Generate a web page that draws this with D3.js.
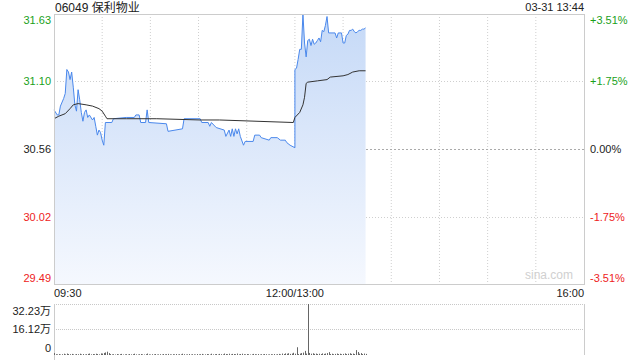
<!DOCTYPE html>
<html>
<head>
<meta charset="utf-8">
<script src="https://cdn.jsdelivr.net/npm/d3@7/dist/d3.min.js"></script>
<style>
body { margin: 0; background: #fff; }
svg { display: block; font-family: "Liberation Sans", Arial, "Noto Sans CJK SC", sans-serif; }
</style>
</head>
<body>
<div class="chart"></div>
<script>
// minute data
const priceTimes = ["09:30","09:32","09:33","09:34","09:36","09:37","09:38","09:39","09:40","09:41",
  "09:42","09:43","09:44","09:45","09:46","09:47","09:48","09:49","09:50","09:51",
  "09:52","09:54","09:55","09:56","09:57","09:58","09:59","10:00","10:01","10:02",
  "10:06","10:07","10:15","10:20","10:21","10:23","10:24","10:27","10:28","10:29",
  "10:40","10:41","10:50","10:51","11:01","11:02","11:06","11:07","11:08","11:11",
  "11:16","11:17","11:19","11:20","11:21","11:22","11:23","11:24","11:25","11:26",
  "11:28","11:29","11:34","11:35","11:38","11:39","11:44","11:45","11:49","11:51",
  "11:54","11:55","11:57","12:00","13:00","13:01","13:02","13:03","13:04","13:05",
  "13:06","13:07","13:08","13:09","13:10","13:11","13:12","13:13","13:14","13:15",
  "13:16","13:17","13:18","13:19","13:20","13:21","13:25","13:26","13:27","13:29",
  "13:30","13:31","13:32","13:33","13:34","13:35","13:36","13:37","13:38","13:39",
  "13:40","13:41","13:42","13:43","13:44"];
const prices = [30.87,30.83,30.83,30.90,30.96,31.00,31.19,31.17,31.11,31.17,
  31.05,30.91,30.86,31.03,30.95,30.85,30.78,30.85,30.87,30.81,
  30.83,30.79,30.81,30.74,30.67,30.71,30.69,30.63,30.59,30.77,
  30.77,30.80,30.81,30.81,30.83,30.83,30.77,30.77,30.87,30.77,
  30.76,30.70,30.72,30.80,30.80,30.77,30.77,30.74,30.77,30.73,
  30.71,30.66,30.71,30.66,30.72,30.66,30.72,30.68,30.72,30.66,
  30.59,30.62,30.62,30.67,30.67,30.65,30.63,30.65,30.65,30.63,
  30.63,30.61,30.59,30.57,31.19,31.20,31.27,31.35,31.35,31.63,
  31.40,31.29,31.42,31.43,31.38,31.43,31.39,31.40,31.42,31.44,
  31.41,31.50,31.49,31.54,31.61,31.48,31.48,31.44,31.48,31.48,
  31.40,31.40,31.46,31.47,31.50,31.50,31.51,31.49,31.48,31.49,
  31.50,31.50,31.51,31.51,31.52];

const avgTimes = ["09:30","09:33","09:37","09:40","09:42","09:45","09:50","09:54","09:58","10:00",
  "10:02","10:03","10:15","10:34","11:01","11:13","11:59","13:00","13:03","13:05",
  "13:06","13:07","13:08","13:14","13:20","13:22","13:30","13:33","13:36","13:40","13:44"];
const avgPrices = [30.80,30.82,30.84,30.88,30.91,30.92,30.91,30.90,30.88,30.86,
  30.82,30.80,30.80,30.80,30.79,30.79,30.77,30.81,30.85,30.91,
  30.97,31.08,31.09,31.10,31.11,31.13,31.14,31.15,31.17,31.18,31.18];

// volume per minute from 09:30, in 万
const volumes = [
  1.2,0.5,0.4,0.6,0.3,0.5,0.8,0.4,0.9,0.6,0.5,0.7,0.4,0.3,0.6,
  0.5,0.8,0.4,0.6,0.3,0.5,0.7,0.9,0.4,0.6,0.5,0.8,0.6,0.4,1.0,
  0.9,1.3,1.6,2.1,1.2,0.6,0.4,0.5,0.3,0.6,0.4,0.5,0.7,0.3,0.4,
  0.5,0.3,0.6,0.4,0.5,0.8,0.4,0.3,0.5,0.6,0.4,0.3,0.5,0.9,0.4,
  0.3,0.5,0.4,0.6,0.3,0.4,0.5,0.3,0.6,0.4,0.5,0.7,0.4,0.3,0.5,
  0.4,0.6,0.3,0.5,0.4,0.8,0.5,0.3,0.4,0.6,0.3,0.5,0.4,0.3,0.6,
  0.4,0.5,0.7,0.3,0.4,0.6,0.5,0.3,0.8,0.4,0.5,0.6,0.3,0.7,0.5,
  0.4,0.9,0.6,0.5,0.8,0.4,0.7,0.6,0.5,0.9,0.4,0.6,0.8,0.5,0.4,
  0.6,0.5,0.3,0.4,0.7,0.5,0.4,0.6,0.3,0.5,0.4,0.6,0.5,0.3,0.4,
  0.5,0.4,0.6,0.3,0.5,0.7,0.4,0.9,0.6,1.0,0.8,1.1,0.7,0.9,1.4,
  0.8,4.9,0.6,0.9,1.2,1.5,2.6,0.9,32.23,1.3,0.8,1.1,0.7,0.9,0.6,
  0.8,0.6,1.0,0.7,0.9,1.2,1.8,0.6,0.8,0.5,0.7,0.9,0.6,0.8,0.5,
  0.7,1.0,0.6,0.8,1.1,0.7,0.9,0.6,3.1,1.9,0.8,1.2,0.6,0.9,0.7];

const prevClose = 30.56;
const priceTicks = [31.63, 31.10, 30.56, 30.02, 29.49];
const pctTicks = ["+3.51%", "+1.75%", "0.00%", "-1.75%", "-3.51%"];
const volTicks = [32.23, 16.12, 0];
const timeLabels = ["09:30", "12:00/13:00", "16:00"];

const green = "#1a9f1a", red = "#ee2222", dark = "#222";

function toMinute(t) {
    const p = t.split(":");
    const mins = +p[0] * 60 + +p[1];
    return mins <= 720 ? mins - 570 : mins - 780 + 150;
}

const svg = d3.select(".chart")
    .append("svg")
    .attr("width", 640)
    .attr("height", 360);

const x = d3.scaleLinear().domain([0, 330]).range([54, 584]);
const y = d3.scaleLinear().domain([29.49, 31.63]).range([284, 14]);
const yv = d3.scaleLinear().domain([0, 32.23]).range([355, 304]);

const grad = svg.append("defs").append("linearGradient")
    .attr("id", "fillGrad")
    .attr("gradientUnits", "userSpaceOnUse")
    .attr("x1", 0).attr("x2", 0)
    .attr("y1", 14).attr("y2", 284);
grad.append("stop").attr("offset", "0%").attr("stop-color", "#c5d9f7");
grad.append("stop").attr("offset", "100%").attr("stop-color", "#f5f8fe");

// grid
svg.append("g")
    .selectAll("line")
    .data(d3.range(30, 330, 30))
    .enter()
    .append("line")
    .attr("x1", d => x(d)).attr("x2", d => x(d))
    .attr("y1", 14).attr("y2", 284)
    .attr("stroke", "#cfcfcf")
    .attr("stroke-dasharray", "1,2");

svg.append("g")
    .selectAll("line")
    .data(priceTicks.slice(1, 4))
    .enter()
    .append("line")
    .attr("x1", 54).attr("x2", 584)
    .attr("y1", d => Math.round(y(d)) + 0.5).attr("y2", d => Math.round(y(d)) + 0.5)
    .attr("stroke", d => d === prevClose ? "#aaa" : "#cfcfcf")
    .attr("stroke-dasharray", d => d === prevClose ? "2,2" : "1,2");

// price area + lines
const pts = priceTimes.map((t, i) => [toMinute(t), prices[i]]);
const avgPts = avgTimes.map((t, i) => [toMinute(t), avgPrices[i]]);

svg.append("path")
    .datum(pts)
    .attr("fill", "url(#fillGrad)")
    .attr("d", d3.area().x(d => x(d[0])).y0(284).y1(d => y(d[1])));

svg.append("path")
    .datum(pts)
    .attr("fill", "none")
    .attr("stroke", "#4a88ec")
    .attr("stroke-width", 1)
    .attr("d", d3.line().x(d => x(d[0])).y(d => y(d[1])));

svg.append("path")
    .datum(avgPts)
    .attr("fill", "none")
    .attr("stroke", "#333")
    .attr("stroke-width", 1)
    .attr("d", d3.line().x(d => x(d[0])).y(d => y(d[1])));

// frame
svg.append("rect")
    .attr("x", 54.5).attr("y", 14.5)
    .attr("width", 530).attr("height", 270)
    .attr("fill", "none")
    .attr("stroke", "#cccccc");

svg.append("text")
    .attr("x", 573).attr("y", 279)
    .attr("text-anchor", "end")
    .attr("font-size", 12)
    .attr("fill", "#d0d0d0")
    .text("sina.com");

// price labels
const labelColor = d => d > prevClose ? green : d < prevClose ? red : dark;
const clampY = v => Math.min(Math.max(v, 20.5), 278.5);

svg.append("g")
    .selectAll("text")
    .data(priceTicks)
    .enter()
    .append("text")
    .attr("x", 51)
    .attr("y", d => clampY(y(d)))
    .attr("dy", "0.35em")
    .attr("text-anchor", "end")
    .attr("font-size", 11)
    .attr("fill", labelColor)
    .text(d => d.toFixed(2));

svg.append("g")
    .selectAll("text")
    .data(priceTicks)
    .enter()
    .append("text")
    .attr("x", 590)
    .attr("y", d => clampY(y(d)))
    .attr("dy", "0.35em")
    .attr("font-size", 11)
    .attr("fill", labelColor)
    .text((d, i) => pctTicks[i]);

// title
svg.append("text")
    .attr("x", 55).attr("y", 7.5)
    .attr("dy", "0.35em")
    .attr("font-size", 12)
    .attr("fill", dark)
    .text("06049 保利物业");

svg.append("text")
    .attr("x", 584).attr("y", 7.5)
    .attr("dy", "0.35em")
    .attr("text-anchor", "end")
    .attr("font-size", 11)
    .attr("fill", dark)
    .text("03-31 13:44");

// time labels
svg.append("g")
    .selectAll("text")
    .data(timeLabels)
    .enter()
    .append("text")
    .attr("x", (d, i) => x([0, 150, 330][i]))
    .attr("y", 293)
    .attr("dy", "0.35em")
    .attr("text-anchor", (d, i) => ["start", "middle", "end"][i])
    .attr("font-size", 11)
    .attr("fill", dark)
    .text(d => d);

// volume panel
svg.append("g")
    .selectAll("line")
    .data(volTicks.slice(0, 2))
    .enter()
    .append("line")
    .attr("x1", 54).attr("x2", 584)
    .attr("y1", d => Math.round(yv(d)) + 0.5).attr("y2", d => Math.round(yv(d)) + 0.5)
    .attr("stroke", "#c8c8c8")
    .attr("stroke-dasharray", "1,1");

svg.append("line")
    .attr("x1", 54.5).attr("x2", 54.5).attr("y1", 304).attr("y2", 360)
    .attr("stroke", "#cccccc");
svg.append("line")
    .attr("x1", 584.5).attr("x2", 584.5).attr("y1", 304).attr("y2", 355)
    .attr("stroke", "#cccccc");

svg.append("g")
    .selectAll("line")
    .data(volumes)
    .enter()
    .append("line")
    .attr("x1", (d, i) => Math.round(x(i)) + 0.5)
    .attr("x2", (d, i) => Math.round(x(i)) + 0.5)
    .attr("y1", 355)
    .attr("y2", d => yv(d))
    .attr("stroke", "#666");

svg.append("g")
    .selectAll("text")
    .data(volTicks)
    .enter()
    .append("text")
    .attr("x", 51)
    .attr("y", d => Math.min(Math.max(yv(d), 311), 348))
    .attr("dy", "0.35em")
    .attr("text-anchor", "end")
    .attr("font-size", 11)
    .attr("fill", dark)
    .text(d => d === 0 ? "0" : d.toFixed(2) + "万");
</script>
</body>
</html>
